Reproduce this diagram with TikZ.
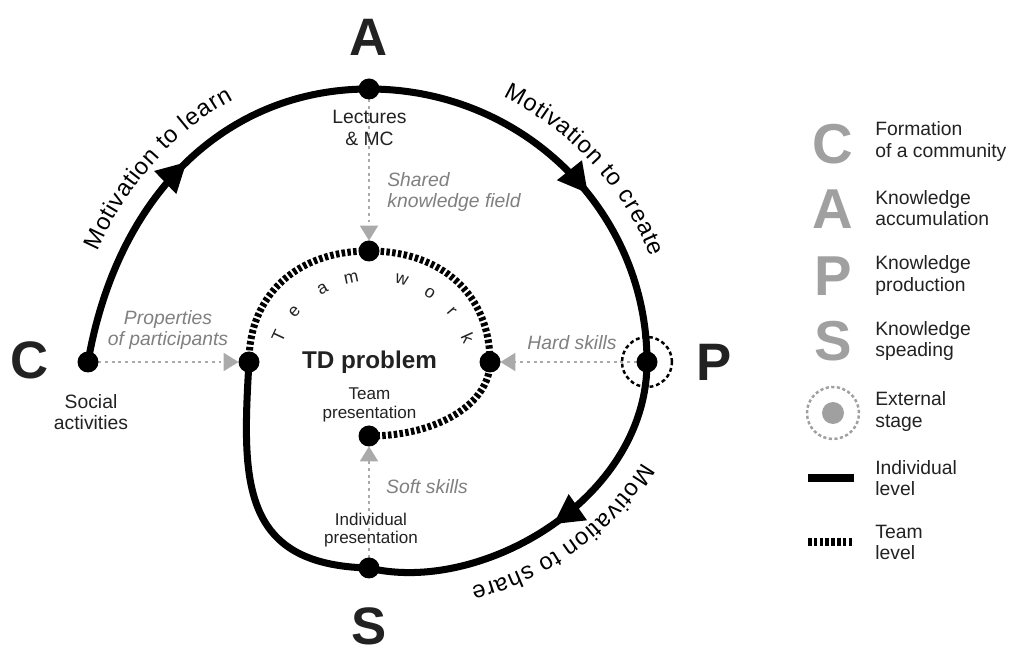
\documentclass[tikz,border=0pt]{standalone}
\usepackage{fontspec}
\setmainfont{Liberation Sans}
\usetikzlibrary{arrows.meta,decorations.markings,decorations.text}
\definecolor{ink}{HTML}{222222}
\definecolor{lgray}{HTML}{A0A0A0}
\definecolor{tgray}{HTML}{808080}
\definecolor{agray}{HTML}{AAAAAA}
\newcommand\motfont{\fontsize{13.5}{16}\selectfont}
\begin{document}
\begin{tikzpicture}[x=0.02cm,y=0.02cm,
  dot/.style={circle,fill=black,minimum size=0.4cm,inner sep=0pt},
  indiv/.style={line width=4pt,black},
  teamline/.style={line width=4pt,black,dash pattern=on 2pt off 1.3pt},
  feed/.style={agray,line width=1.6pt,dash pattern=on 1.6pt off 2.2pt,
    -{Triangle[length=8.5pt,width=10pt]}},
  midarrow/.style={postaction={decorate,decoration={markings,
    mark=at position #1 with {\arrow{Triangle[length=17pt,width=17pt]}}}}},
  mottext/.style 2 args={postaction={decorate,decoration={text along path,
    raise=13pt,text align={left indent=#1},text={|\motfont|#2}}}},
  bigl/.style={font=\fontsize{30}{30}\selectfont\bfseries,text=ink,inner sep=0pt},
  legl/.style={font=\fontsize{32}{32}\selectfont\bfseries,text=lgray,inner sep=0pt},
  lab/.style={font=\fontsize{11}{12.2}\selectfont,text=ink,align=center,inner sep=0pt},
  slab/.style={font=\fontsize{9.7}{10.6}\selectfont,text=ink,align=center,inner sep=0pt},
  glab/.style={font=\fontsize{11}{12}\selectfont\itshape,text=tgray,inner sep=0pt},
  legt/.style={font=\fontsize{11}{12}\selectfont,text=ink,align=left,anchor=west,inner sep=0pt},
  twl/.style={font=\fontsize{10}{10}\selectfont,text=ink,inner sep=0pt}
]
\useasboundingbox (0,0) rectangle (1009,653);
\fill[white] (0,0) rectangle (1009,653);

% stage positions
\coordinate (c) at (88,291);
\coordinate (a) at (369,564);
\coordinate (p) at (647,291);
\coordinate (s) at (369,85);
\coordinate (l) at (249,291);
\coordinate (t) at (369,402);
\coordinate (r) at (490,291);
\coordinate (b) at (369,217);

% dots
\node[dot] (C) at (c) {};
\node[dot] (A) at (a) {};
\node[dot] (P) at (p) {};
\node[dot] (S) at (s) {};
\node[dot] (L) at (l) {};
\node[dot] (T) at (t) {};
\node[dot] (R) at (r) {};
\node[dot] (B) at (b) {};

% feed arrows
\draw[feed] (C) -- (L);
\draw[feed] (A) -- (T);
\draw[feed] (P) -- (R);
\draw[feed] (S) -- (B);

% individual spiral
\draw[indiv,midarrow=0.53,mottext={2.1cm}{Motivation to learn}]
  (c) .. controls +(30,172) and +(-139,0) .. (a);
\draw[indiv,midarrow=0.58,mottext={2.55cm}{Motivation to create}]
  (a) .. controls +(155,0) and +(0,150) .. (p);
\draw[indiv,midarrow=0.5,mottext={1.85cm}{Motivation to share}]
  (p) .. controls +(0,-138) and +(111,-27) .. (s);
\draw[indiv] (s) .. controls +(-129,3) and +(-7,-118) .. (l);

% team spiral
\draw[teamline] (l) .. controls +(0,67) and +(-72,0) .. (t);
\draw[teamline] (t) .. controls +(73,0) and +(0,67) .. (r);
\draw[teamline] (r) .. controls +(0,-42) and +(68,0) .. (b);

% redraw dots on top
\foreach \n in {c,a,p,s,l,t,r,b} \fill[black] (\n) circle (10.5);

% external stage ring
\node[circle,draw=black,line width=1.4pt,dash pattern=on 2.2pt off 1.6pt,
  minimum size=1cm,inner sep=0pt] (Pring) at (p) {};

% big letters
\node[bigl] (bC) at (30,293) {C};
\node[bigl] (bA) at (369,616) {A};
\node[bigl] (bP) at (714,291) {P};
\node[bigl] (bS) at (369,27) {S};

% labels
\node[lab] (lect) at (369.5,525) {Lectures\\\& MC};
\node[lab] (soc) at (91,241) {Social\\activities};
\node[slab] (tpres) at (369.5,248) {Team\\presentation};
\node[slab] (ipres) at (371,123) {Individual\\presentation};
\node[font=\fontsize{13.8}{14}\selectfont\bfseries,text=ink,inner sep=0pt] (td) at (369.5,291) {TD problem};
\node[glab,align=left,anchor=west] (shk) at (387,461) {Shared\\knowledge field};
\node[glab,align=center] (prop) at (168,323) {Properties\\of participants};
\node[glab] (hard) at (572,310) {Hard skills};
\node[glab] (soft) at (427,166) {Soft skills};

% Team work letters
\foreach \ch/\ang [count=\i] in {T/155,e/139,a/119,m/102,w/74,o/57,r/41,k/24}
  \node[twl,rotate=\ang-90] (tw\i) at ([shift={(\ang:104)}]373,273) {\ch};

% legend
\node[legl] (lgC) at (833,509) {C};
\node[legl] (lgA) at (833,444) {A};
\node[legl] (lgP) at (833,377) {P};
\node[legl] (lgS) at (833,312) {S};
\node[legt] (ltC) at (875,511.5) {Formation\\of a community};
\node[legt] (ltA) at (875,444.5) {Knowledge\\accumulation};
\node[legt] (ltP) at (875,377.5) {Knowledge\\production};
\node[legt] (ltS) at (875,312) {Knowledge\\speading};
\node[circle,draw=lgray,line width=1.4pt,dash pattern=on 1.8pt off 1.4pt,
  minimum size=1.04cm,inner sep=0pt] (lgext) at (833,240) {};
\node[circle,fill=lgray,minimum size=0.44cm,inner sep=0pt] (lgextdot) at (833,240) {};
\node[legt] (ltE) at (875,241.5) {External\\stage};
\coordinate (li1) at (808,175);
\coordinate (li2) at (854,175);
\draw[line width=4pt,black] (li1) -- (li2);
\node[legt] (ltI) at (875,175) {Individual\\level};
\coordinate (lt1) at (808,111);
\coordinate (lt2) at (854,111);
\draw[teamline] (lt1) -- (lt2);
\node[legt] (ltT) at (875,110.5) {Team\\level};
\end{tikzpicture}
\end{document}
